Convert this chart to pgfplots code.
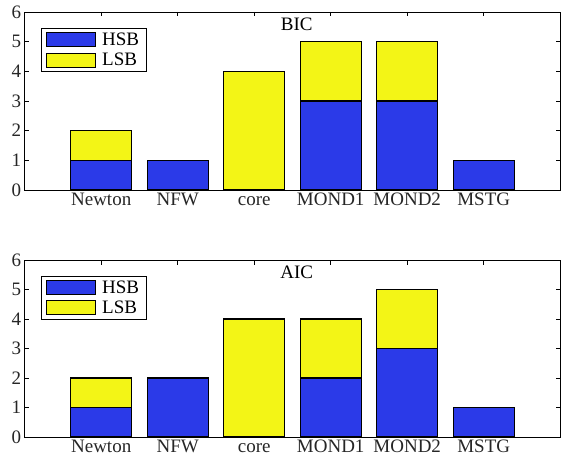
\documentclass[border=0pt]{standalone}
\usepackage{pgfplots}
\pgfplotsset{compat=1.18}
\usepackage{fontspec}
\setmainfont{Liberation Serif}
\definecolor{hsb}{RGB}{43,58,232}
\definecolor{lsb}{RGB}{243,245,22}
\definecolor{txt}{RGB}{38,38,38}
\pgfplotsset{
  mystyle/.style={
    scale only axis,
    width=535.5pt, height=178pt,
    xmin=0, xmax=7, ymin=0, ymax=6,
    ytick={0,1,2,3,4,5,6},
    xtick={1,2,3,4,5,6},
    xticklabels={Newton,NFW,core,MOND1,MOND2,MSTG},
    tick align=inside,
    major tick length=4.5pt,
    tick style={black, line width=0.8pt},
    axis line style={black, line width=0.8pt},
    ybar stacked,
    bar width=0.8,
    /pgf/number format/assume math mode=true,
    tick label style={font=\fontsize{19}{21}\selectfont, text=txt},
    xticklabel style={text height=13pt, text depth=4pt, yshift=1pt},
    title style={font=\fontsize{19}{21}\selectfont, at={(0.508,0.955)}, anchor=north},
    legend style={at={(0.03,0.91)}, anchor=north west, draw=black, line width=0.8pt,
      font=\fontsize{19}{21}\selectfont, inner xsep=5pt, inner ysep=2.5pt,
      row sep=2pt, cells={anchor=west},
      /tikz/every odd column/.append style={column sep=4pt}},
    legend image code/.code={\draw[#1, line width=1pt] (0pt,-7pt) rectangle (49pt,7pt);},
    every axis plot/.append style={draw=black, line width=1.2pt},
    clip=false,
  }
}
\begin{document}
\begin{tikzpicture}
\useasboundingbox (0pt,0pt) rectangle (561pt,466pt);
\begin{axis}[mystyle, at={(24.7pt,276pt)}, anchor=south west, title={BIC}]
\addplot[fill=hsb] coordinates {(1,1) (2,1) (3,0) (4,3) (5,3) (6,1)};
\addplot[fill=lsb] coordinates {(1,1) (2,0) (3,4) (4,2) (5,2) (6,0)};
\legend{HSB,LSB}
\end{axis}
\begin{axis}[mystyle, at={(24.7pt,29pt)}, anchor=south west, height=177pt, title={AIC}]
\addplot[fill=hsb] coordinates {(1,1) (2,2) (3,0) (4,2) (5,3) (6,1)};
\addplot[fill=lsb] coordinates {(1,1) (2,0) (3,4) (4,2) (5,2) (6,0)};
\legend{HSB,LSB}
\end{axis}
\end{tikzpicture}
\end{document}
